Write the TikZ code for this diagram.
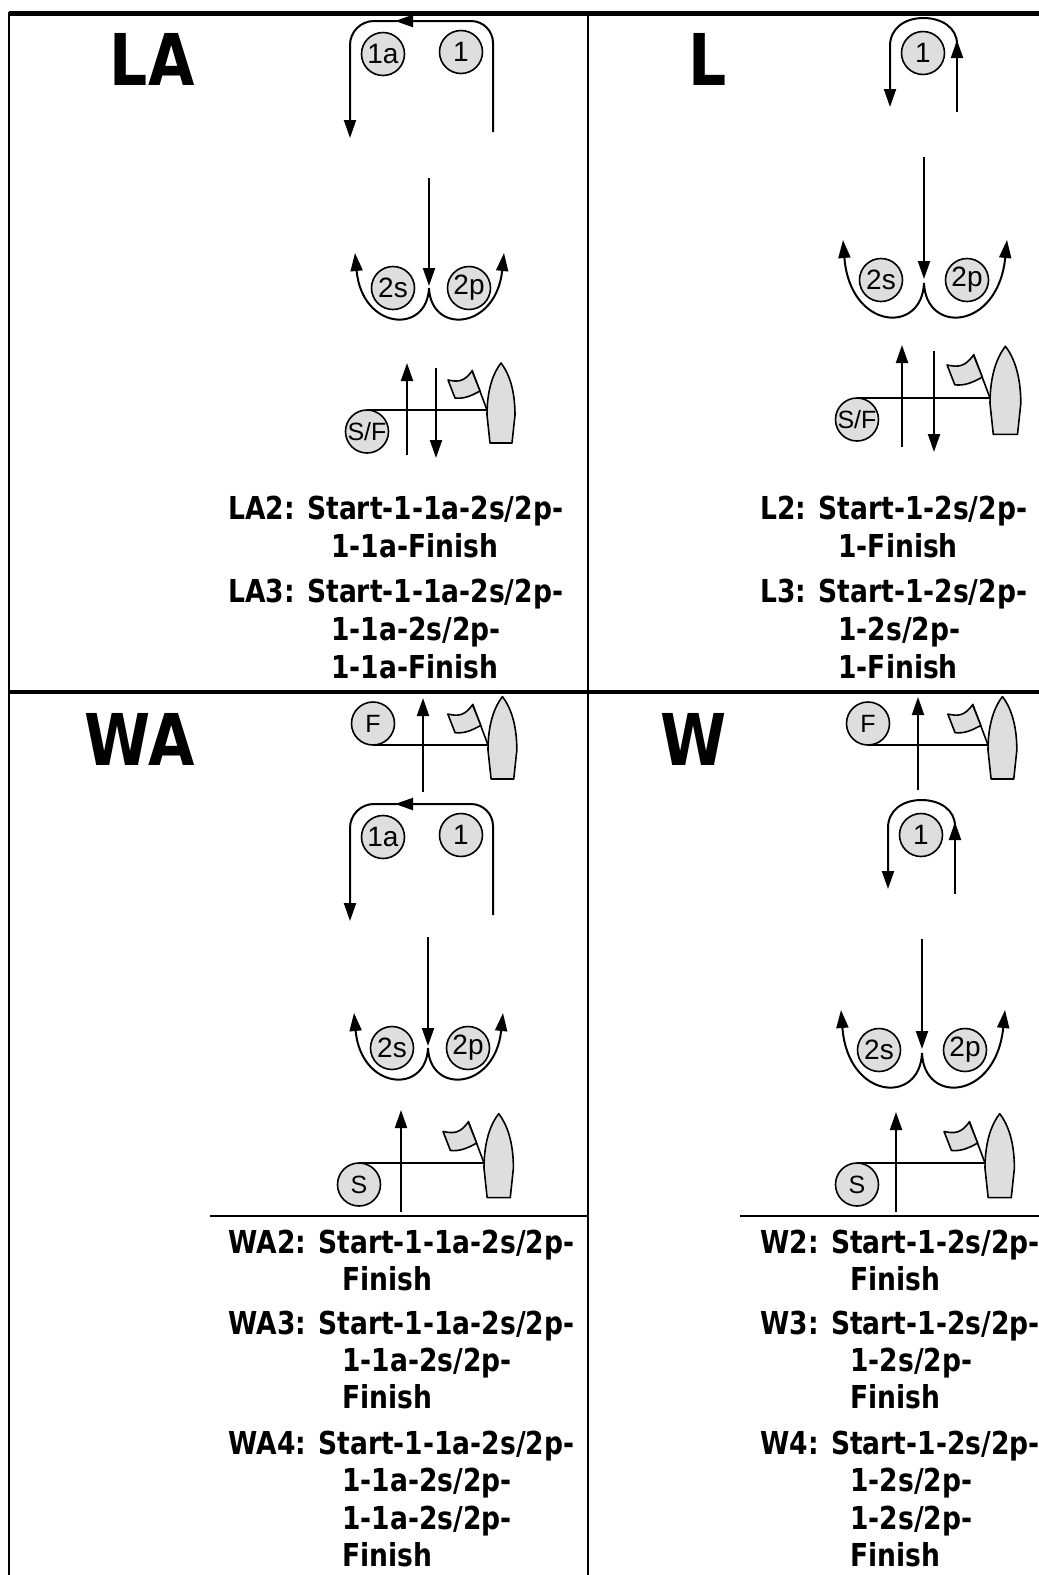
\documentclass[tikz,border=0pt]{standalone}
\usepackage{fontspec}
\usepackage{tikz}
\usetikzlibrary{arrows.meta}

\newfontfamily\coursefont{DejaVu Sans}[FakeStretch=0.84]
\newfontfamily\buoyfont{Liberation Sans}

\tikzset{
  buoy/.style={circle, draw, line width=0.8pt, fill=black!13, minimum size=21.5pt, inner sep=0pt,
    font=\buoyfont\fontsize{14}{14}\selectfont},
  startbuoy/.style={buoy, font=\buoyfont\fontsize{12.5}{12.5}\selectfont},
  route/.style={line width=1pt},
  arr/.style={route, -{Triangle[length=9pt,width=6pt]}},
  hull/.style={line width=0.8pt, fill=black!13, line join=round},
  rule/.style={line width=1pt},
  coursename/.style={anchor=base east, inner sep=0pt,
    font=\coursefont\bfseries\fontsize{35.7}{36}\selectfont},
  courseline/.style={anchor=base west, inner sep=0pt,
    font=\coursefont\bfseries\fontsize{15.8}{19}\selectfont},
}

% committee boat with flag, #1 = point where the line meets the hull, #2 = scale
\newcommand{\signalboat}[2]{%
  \begin{scope}[shift={#1}, scale=#2]
    \draw[hull] (3,33) -- (0,5) .. controls (0,-22) and (7,-38) .. (14,-47)
      .. controls (21,-38) and (28,-22) .. (28,5) -- (25,33) -- cycle;
    \draw[line width=0.8pt] (0,0) -- (-15,-40);
    \draw[hull] (-15,-39) .. controls (-23,-28) and (-29,-28) .. (-39,-30)
      -- (-32,-12) .. controls (-23,-11) and (-16,-14) .. (-7,-19) -- cycle;
  \end{scope}}

\begin{document}
\begin{tikzpicture}[x=0.5pt, y=-0.5pt]
\useasboundingbox (0,0) rectangle (1039,1575);

% table rules
\draw[line width=2.5pt] (9,13) -- (1039,13);
\draw[line width=1.8pt] (9,692) -- (1039,692);
\draw[rule] (9,12) -- (9,1575);
\draw[rule] (588,12) -- (588,1575);
\draw[line width=0.8pt] (210,1216) -- (588,1216);
\draw[line width=0.8pt] (740,1216) -- (1039,1216);

% LA
\node[coursename] (LA) at (195,85) {LA};
\draw[arr, rounded corners=11pt] (493,132) |- (395,21);
\draw[arr, rounded corners=12pt] (397,21) -| (350,138);
\node[buoy] (LA1a) at (383,54) {1a};
\node[buoy] (LA1) at (461,52) {1};
\draw[arr] (429,178) -- (429,286);
\draw[arr] (429,288) .. controls (427,335) and (362,330) .. (355,253);
\draw[arr] (429,288) .. controls (431,335) and (496,330) .. (504,253);
\node[buoy] (LA2s) at (393,288) {2s};
\node[buoy] (LA2p) at (469,288) {2p};
\coordinate (LAhull) at (487,410);
\node[startbuoy] (LASF) at (367,431.5) {S/F};
\draw[route] (LAhull) -- (LAhull -| LASF);
\draw[arr] (407,455) -- (407,363);
\draw[arr] (436,368) -- (436,458);
\signalboat{(LAhull)}{1}
\node[courseline] (LA2) at (228,519) {LA2: Start-1-1a-2s/2p-};
\node[courseline] (LA2b) at (331,557) {1-1a-Finish};
\node[courseline] (LA3) at (228,602) {LA3: Start-1-1a-2s/2p-};
\node[courseline] (LA3b) at (331,640) {1-1a-2s/2p-};
\node[courseline] (LA3c) at (331,678) {1-1a-Finish};

% L
\node[coursename] (L) at (727,85) {L};
\draw[arr] (957,112) -- (957,40);
\draw[arr] (957,44) .. controls (957,28) and (942,18) .. (923.5,18)
  .. controls (905,18) and (890,28) .. (890,46) -- (890,107);
\node[buoy] (L1) at (923,53) {1};
\draw[arr] (924,157) -- (924,279);
\draw[arr] (924,283) .. controls (922,335) and (850,330) .. (843,240);
\draw[arr] (924,283) .. controls (926,335) and (998,330) .. (1007,240);
\node[buoy] (L2s) at (881,280) {2s};
\node[buoy] (L2p) at (967,280) {2p};
\coordinate (Lhull) at (990,398);
\node[startbuoy] (LSF) at (857,419.5) {S/F};
\draw[route] (Lhull) -- (Lhull -| LSF);
\draw[arr] (902,447) -- (902,345);
\draw[arr] (934,351) -- (934,452);
\signalboat{(Lhull)}{1.1}
\node[courseline] (L2) at (760,519) {L2: Start-1-2s/2p-};
\node[courseline] (L2b) at (838,557) {1-Finish};
\node[courseline] (L3) at (760,602) {L3: Start-1-2s/2p-};
\node[courseline] (L3b) at (838,640) {1-2s/2p-};
\node[courseline] (L3c) at (838,678) {1-Finish};

% WA
\node[coursename] (WA) at (195,765) {WA};
\coordinate (WAtop) at (488,745);
\node[startbuoy] (WAF) at (373,723.5) {F};
\draw[route] (WAtop) -- (WAtop -| WAF);
\draw[arr] (423,792) -- (423,698);
\signalboat{(WAtop)}{1.03}
\draw[arr, rounded corners=11pt] (493,915) |- (395,804);
\draw[arr, rounded corners=12pt] (397,804) -| (350,921);
\node[buoy] (WA1a) at (383,837) {1a};
\node[buoy] (WA1) at (461,835) {1};
\draw[arr] (428,937) -- (428,1046);
\draw[arr] (428,1048) .. controls (426,1095) and (361,1090) .. (354,1013);
\draw[arr] (428,1048) .. controls (430,1095) and (495,1090) .. (503,1013);
\node[buoy] (WA2s) at (392,1048) {2s};
\node[buoy] (WA2p) at (468,1048) {2p};
\coordinate (WAbottom) at (484,1163);
\node[startbuoy] (WAS) at (359,1184.5) {S};
\draw[route] (WAbottom) -- (WAbottom -| WAS);
\draw[arr] (401,1212) -- (401,1110);
\signalboat{(WAbottom)}{1.05}
\node[courseline] (WA2) at (228,1253) {WA2: Start-1-1a-2s/2p-};
\node[courseline] (WA2b) at (342,1290) {Finish};
\node[courseline] (WA3) at (228,1334) {WA3: Start-1-1a-2s/2p-};
\node[courseline] (WA3b) at (342,1371) {1-1a-2s/2p-};
\node[courseline] (WA3c) at (342,1408) {Finish};
\node[courseline] (WA4) at (228,1454) {WA4: Start-1-1a-2s/2p-};
\node[courseline] (WA4b) at (342,1491) {1-1a-2s/2p-};
\node[courseline] (WA4c) at (342,1529) {1-1a-2s/2p-};
\node[courseline] (WA4d) at (342,1566) {Finish};

% W
\node[coursename] (W) at (727,765) {W};
\coordinate (Wtop) at (988,745);
\node[startbuoy] (WF) at (868,723.5) {F};
\draw[route] (Wtop) -- (Wtop -| WF);
\draw[arr] (918,790) -- (918,697);
\signalboat{(Wtop)}{1.03}
\draw[arr] (955,894) -- (955,822);
\draw[arr] (955,826) .. controls (955,810) and (940,800) .. (921.5,800)
  .. controls (903,800) and (888,810) .. (888,828) -- (888,889);
\node[buoy] (W1) at (921,835) {1};
\draw[arr] (922,939) -- (922,1049);
\draw[arr] (922,1053) .. controls (920,1105) and (848,1100) .. (841,1010);
\draw[arr] (922,1053) .. controls (924,1105) and (996,1100) .. (1005,1010);
\node[buoy] (W2s) at (879,1050) {2s};
\node[buoy] (W2p) at (965,1050) {2p};
\coordinate (Wbottom) at (985,1163);
\node[startbuoy] (WS) at (857,1184.5) {S};
\draw[route] (Wbottom) -- (Wbottom -| WS);
\draw[arr] (896,1212) -- (896,1112);
\signalboat{(Wbottom)}{1.05}
\node[courseline] (W2) at (760,1253) {W2: Start-1-2s/2p-};
\node[courseline] (W2b) at (850,1290) {Finish};
\node[courseline] (W3) at (760,1334) {W3: Start-1-2s/2p-};
\node[courseline] (W3b) at (850,1371) {1-2s/2p-};
\node[courseline] (W3c) at (850,1408) {Finish};
\node[courseline] (W4) at (760,1454) {W4: Start-1-2s/2p-};
\node[courseline] (W4b) at (850,1491) {1-2s/2p-};
\node[courseline] (W4c) at (850,1529) {1-2s/2p-};
\node[courseline] (W4d) at (850,1566) {Finish};
\end{tikzpicture}
\end{document}
